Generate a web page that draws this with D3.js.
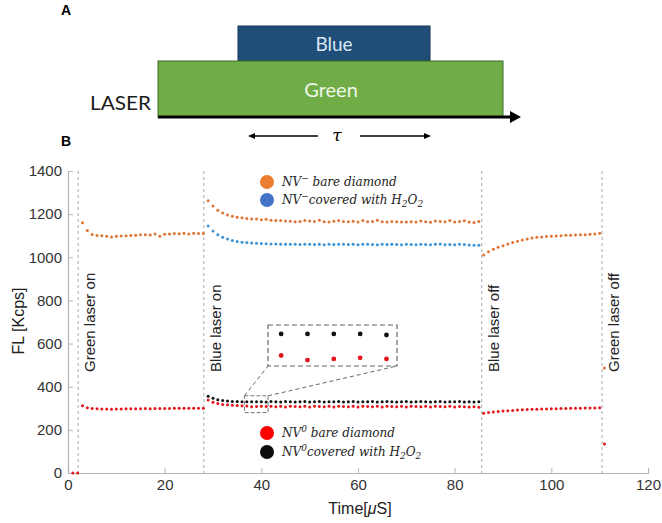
<!DOCTYPE html>
<html>
<head>
<meta charset="utf-8">
<script src="https://cdn.jsdelivr.net/npm/d3@7"></script>
<style>
  body { margin: 0; background: #fff; }
  svg { display: block; }
</style>
</head>
<body>
<svg id="fig" width="662" height="523"></svg>
<script>
// time stamps (microseconds) of each acquisition segment
var tSeg1 = [3,4,5,6,7,8,9,10,11,12,13,14,15,16,17,18,19,20,21,22,23,24,25,26,27,28];
var tSeg2 = [29,30,31,32,33,34,35,36,37,38,39,40,41,42,43,44,45,46,47,48,49,50,51,52,53,54,55,56,57,
             58,59,60,61,62,63,64,65,66,67,68,69,70,71,72,73,74,75,76,77,78,79,80,81,82,83,84,85];
var tSeg3 = [86,87,88,89,90,91,92,93,94,95,96,97,98,99,100,101,102,103,104,105,106,107,108,109,110];

// NV- bare diamond (orange)
var nvMinusBare1 = [1160,1124,1106,1101,1100,1098,1094,1097,1099,1100,1101,1102,1104,1105,1103,1108,1098,1107,1108,1110,1109,1111,1108,1111,1110,1110];
var nvMinusBare2 = [1262,1238,1218,1205,1196,1190,1186,1183,1180,1177,1178,1174,1176,1172,1170,1171,1168,1167,1165,1166,1170,1168,1166,1172,1165,1164,1167,1170,1166,
                    1165,1167,1164,1170,1165,1166,1172,1165,1164,1166,1165,1164,1163,1165,1164,1168,1165,1162,1168,1166,1165,1170,1164,1166,1169,1163,1161,1166];
var nvMinusBare3 = [1011,1026,1037,1046,1054,1062,1068,1074,1080,1085,1089,1093,1094,1096,1097,1099,1100,1102,1102,1103,1105,1105,1107,1108,1111];
// NV- covered with H2O2 (blue)
var nvMinusCov2 = [1145,1122,1105,1093,1085,1078,1073,1070,1068,1066,1065,1064,1063,1062,1062,1061,1060,1061,1060,1059,1060,1061,1059,1060,1058,1060,1059,1061,1060,
                   1059,1060,1058,1060,1061,1059,1058,1060,1059,1061,1059,1058,1060,1059,1058,1060,1059,1058,1060,1062,1058,1059,1058,1060,1059,1057,1056,1056];
// NV0 bare diamond (red)
var nvZeroBare1 = [312,302,299,298,297,297,296,297,297,298,298,298,298,299,298,299,299,299,299,300,300,300,300,300,300,300];
var nvZeroBare2 = [338,328,322,318,316,314,313,312,311,307,308,309,308,310,307,309,306,310,308,307,309,306,310,308,307,309,306,310,308,
                   307,309,306,309,308,307,310,306,309,308,307,309,306,310,308,307,309,306,309,308,307,309,306,308,307,306,307,305];
var nvZeroBare3 = [277,280,283,285,287,289,290,292,293,294,295,296,297,297,298,298,299,299,300,300,300,301,301,301,302];
// NV0 covered with H2O2 (black)
var nvZeroCov2 = [356,346,340,336,334,332,331,330,330,330,330,330,329,331,330,329,331,330,329,330,331,329,330,331,329,330,330,331,329,
                  330,331,329,330,330,331,329,330,331,330,329,330,331,329,330,331,330,329,330,331,329,330,330,331,329,330,329,330];
// isolated points around the green laser switching
var tEdgeRed = [1,2,111];
var nvZeroBareEdge = [0,0,134];
var tEdgeOrange = [111];
var nvMinusBareEdge = [487];

var eventTimes = [2.1, 28.1, 85.6, 110.5];
var eventLabels = ['Green laser on', 'Blue laser on', 'Blue laser off', 'Green laser off'];
var xTicks = [0, 20, 40, 60, 80, 100, 120];
var yTicks = [0, 200, 400, 600, 800, 1000, 1200, 1400];
var zoomT = [36.5, 41.4];
var zoomV = [280, 358];

function pts(ts, vs) {
  return ts.map(function (t, i) { return { t: t, v: vs[i] }; });
}

var series = [
  { color: '#e07434', data: pts(tSeg1, nvMinusBare1).concat(pts(tSeg2, nvMinusBare2), pts(tSeg3, nvMinusBare3), pts(tEdgeOrange, nvMinusBareEdge)) },
  { color: '#3a93d6', data: pts(tSeg2, nvMinusCov2) },
  { color: '#e3151b', data: pts(tEdgeRed, nvZeroBareEdge).concat(pts(tSeg1, nvZeroBare1), pts(tSeg2, nvZeroBare2), pts(tSeg3, nvZeroBare3)) },
  { color: '#111111', data: pts(tSeg2, nvZeroCov2) }
];

var svg = d3.select('#fig');
var sans = 'Liberation Sans, Arial, sans-serif';

// ---------- panel A : laser timing diagram ----------
var a = svg.append('g');
a.append('text').attr('x', 61).attr('y', 15).text('A')
  .style('font', 'bold 14px ' + sans);
a.append('text').attr('x', 61).attr('y', 146).text('B')
  .style('font', 'bold 14px ' + sans);

a.append('rect').attr('x', 238).attr('y', 26).attr('width', 192).attr('height', 35)
  .attr('fill', '#1f4e79').attr('stroke', '#16365a').attr('stroke-width', 1);
a.append('rect').attr('x', 158).attr('y', 61).attr('width', 345).attr('height', 56)
  .attr('fill', '#70ad47').attr('stroke', '#3f6d28').attr('stroke-width', 1);
a.append('text').attr('x', 334).attr('y', 51).attr('text-anchor', 'middle').text('Blue')
  .style('font', '19px Lato, sans-serif').attr('fill', '#dbe7f2');
a.append('text').attr('x', 331).attr('y', 97).attr('text-anchor', 'middle').text('Green')
  .style('font', '20px Lato, sans-serif').attr('fill', '#eef6e8');
a.append('text').attr('x', 90).attr('y', 110).text('LASER')
  .attr('textLength', 61).attr('lengthAdjust', 'spacingAndGlyphs')
  .style('font', '20px Lato, sans-serif').attr('fill', '#1a1a1a');

a.append('line').attr('x1', 158).attr('x2', 512).attr('y1', 117).attr('y2', 117)
  .attr('stroke', '#000').attr('stroke-width', 3);
a.append('path').attr('d', 'M510,111 L521,117 L510,123 Z').attr('fill', '#000');

// tau arrows
a.append('line').attr('x1', 252).attr('x2', 318).attr('y1', 136).attr('y2', 136)
  .attr('stroke', '#000').attr('stroke-width', 1.4);
a.append('path').attr('d', 'M248,136 L255,133 L255,139 Z').attr('fill', '#000');
a.append('line').attr('x1', 360).attr('x2', 426).attr('y1', 136).attr('y2', 136)
  .attr('stroke', '#000').attr('stroke-width', 1.4);
a.append('path').attr('d', 'M431,136 L424,133 L424,139 Z').attr('fill', '#000');
a.append('text').attr('x', 337).attr('y', 141).attr('text-anchor', 'middle').text('τ')
  .style('font', 'italic 17px "DejaVu Serif", serif');

// ---------- panel B : fluorescence trace ----------
var x = d3.scaleLinear().domain([0, 120]).range([68, 648]);
var y = d3.scaleLinear().domain([0, 1400]).range([473, 171]);

var axisColor = '#b5b5b5';
var b = svg.append('g');

var xAxis = b.append('g').attr('transform', 'translate(0,' + y(0) + ')')
  .call(d3.axisBottom(x).tickValues(xTicks).tickSize(-5).tickPadding(6).tickFormat(d3.format('d')));
var yAxis = b.append('g').attr('transform', 'translate(' + x(0) + ',0)')
  .call(d3.axisLeft(y).tickValues(yTicks).tickSize(-5).tickPadding(6).tickFormat(d3.format('d')));
[xAxis, yAxis].forEach(function (g) {
  g.select('.domain').attr('stroke', axisColor).attr('stroke-width', 1.2);
  g.selectAll('.tick line').attr('stroke', axisColor);
  g.selectAll('.tick text').attr('fill', '#333').style('font', '15px ' + sans);
});

b.append('text').attr('x', 360).attr('y', 514).attr('text-anchor', 'middle')
  .style('font', '16px ' + sans).attr('fill', '#222')
  .call(function (t) {
    t.append('tspan').text('Time[');
    t.append('tspan').style('font-style', 'italic').text('μ');
    t.append('tspan').text('S]');
  });
b.append('text').attr('transform', 'translate(24,' + 321 + ') rotate(-90)')
  .attr('text-anchor', 'middle').style('font', '16px ' + sans).attr('fill', '#222')
  .text('FL [Kcps]');

// event lines + labels
b.selectAll('line.event').data(eventTimes).enter().append('line')
  .attr('class', 'event')
  .attr('x1', function (d) { return x(d); }).attr('x2', function (d) { return x(d); })
  .attr('y1', y(1400)).attr('y2', y(0))
  .attr('stroke', '#a8a8a8').attr('stroke-width', 1).attr('stroke-dasharray', '3,3');

b.selectAll('text.event').data(eventTimes).enter().append('text')
  .attr('class', 'event')
  .attr('transform', function (d) { return 'translate(' + (x(d) + 17) + ',' + 372 + ') rotate(-90)'; })
  .style('font', '15px ' + sans).attr('fill', '#222')
  .text(function (d, i) { return eventLabels[i]; });

// data dots
series.forEach(function (s) {
  b.append('g').selectAll('circle').data(s.data).enter().append('circle')
    .attr('cx', function (d) { return x(d.t); })
    .attr('cy', function (d) { return y(d.v); })
    .attr('r', 1.5)
    .attr('fill', s.color);
});

// zoom box and inset
b.append('rect')
  .attr('x', x(zoomT[0])).attr('y', y(zoomV[1]))
  .attr('width', x(zoomT[1]) - x(zoomT[0])).attr('height', y(zoomV[0]) - y(zoomV[1]))
  .attr('fill', 'none').attr('stroke', '#777').attr('stroke-dasharray', '4,2');

var inset = { x0: 268, x1: 397, y0: 325, y1: 366 };
var xi = d3.scaleLinear().domain(zoomT).range([inset.x0, inset.x1]);
var yi = d3.scaleLinear().domain([301.8, 337.8]).range([inset.y1, inset.y0]);

b.append('rect').attr('x', inset.x0).attr('y', inset.y0)
  .attr('width', inset.x1 - inset.x0).attr('height', inset.y1 - inset.y0)
  .attr('fill', '#fff').attr('stroke', '#666').attr('stroke-width', 1.2).attr('stroke-dasharray', '5,3');
b.append('line').attr('x1', x(zoomT[0])).attr('y1', y(zoomV[1])).attr('x2', inset.x0).attr('y2', inset.y1)
  .attr('stroke', '#666').attr('stroke-dasharray', '4,3');
b.append('line').attr('x1', x(zoomT[1])).attr('y1', y(zoomV[1])).attr('x2', inset.x1).attr('y2', inset.y1)
  .attr('stroke', '#666').attr('stroke-dasharray', '4,3');

[series[3], series[2]].forEach(function (s) {
  var sub = s.data.filter(function (d) { return d.t > zoomT[0] && d.t < zoomT[1] && d.v > zoomV[0] && d.v < zoomV[1]; });
  b.append('g').selectAll('circle').data(sub).enter().append('circle')
    .attr('cx', function (d) { return xi(d.t); })
    .attr('cy', function (d) { return yi(d.v); })
    .attr('r', 2.4)
    .attr('fill', s.color);
});

// legends: label pieces, 'sup' / 'sub' parts are shifted
var legends = [
  { cy: 182, fill: '#ed7d31', parts: [['NV'], ['−', 'sup'], [' bare diamond']] },
  { cy: 200, fill: '#4472c4', parts: [['NV'], ['−', 'sup'], ['covered with H'], ['2', 'sub'], ['O'], ['2', 'sub']] },
  { cy: 433, fill: '#ff0000', parts: [['NV'], ['0', 'sup'], [' bare diamond']] },
  { cy: 452, fill: '#0d0d0d', parts: [['NV'], ['0', 'sup'], ['covered with H'], ['2', 'sub'], ['O'], ['2', 'sub']] }
];
var lg = b.selectAll('g.legend').data(legends).enter().append('g').attr('class', 'legend');
lg.append('circle').attr('cx', 267).attr('cy', function (d) { return d.cy; }).attr('r', 7)
  .attr('fill', function (d) { return d.fill; });
lg.append('text').attr('x', 282).attr('y', function (d) { return d.cy + 4; })
  .style('font', 'italic 12px "DejaVu Serif", serif').attr('fill', '#222')
  .each(function (d) {
    var t = d3.select(this);
    d.parts.forEach(function (p) {
      var sp = t.append('tspan').text(p[0]);
      if (p[1] === 'sup') sp.attr('dy', -5).style('font-size', '9px');
      if (p[1] === 'sub') sp.attr('dy', 3).style('font-size', '9px');
      // reset baseline for the next piece
      if (p[1]) sp.attr('data-shift', p[1] === 'sup' ? 5 : -3);
    });
    // undo shifts on following pieces
    var shift = 0;
    t.selectAll('tspan').each(function () {
      var s = d3.select(this);
      var own = s.attr('dy') ? +s.attr('dy') : 0;
      s.attr('dy', own + shift);
      shift = s.attr('data-shift') ? +s.attr('data-shift') : 0;
    });
  });
</script>
</body>
</html>
